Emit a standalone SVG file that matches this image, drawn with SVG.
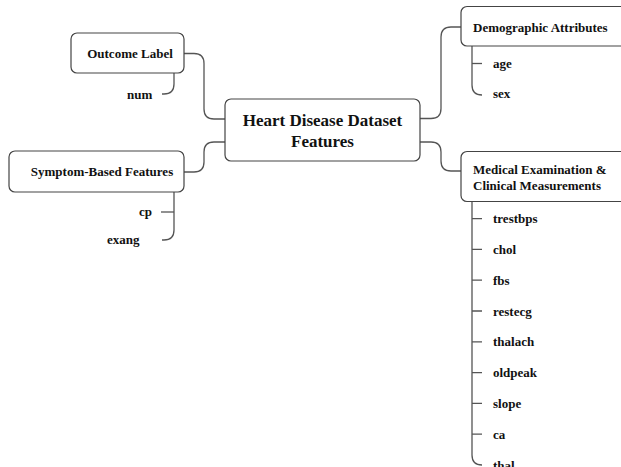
<svg xmlns="http://www.w3.org/2000/svg" width="621" height="467" viewBox="0 0 621 467">
<style>
.box{fill:#fff;stroke:#444;stroke-width:1.2}
.con{fill:none;stroke:#555;stroke-width:1.3}
text{font-family:"Liberation Serif","Times New Roman",serif;font-weight:bold;fill:#111;font-size:13px}
.title{font-size:17px}
.mid{text-anchor:middle}
</style>
<rect width="621" height="467" fill="#fff"/>
<g id="connectors">
<path class="con" d="M184 53.5 H194 Q204 53.5 204 63.5 V109 Q204 119 214 119 H225"/>
<path class="con" d="M184 172 H194 Q204 172 204 162 V152 Q204 142 214 142 H225"/>
<path class="con" d="M420 118.5 H431 Q441 118.5 441 108.5 V37 Q441 27 451 27 H461"/>
<path class="con" d="M420 142 H431 Q441 142 441 152 V161 Q441 171 451 171 H461"/>
<path class="con" d="M174 73 V84 Q174 94 164 94 H162"/>
<path class="con" d="M174 192 V230 Q174 240 164 240 H162"/>
<path class="con" d="M161 212 H174"/>
<path class="con" d="M472 46 V85 Q472 95 482 95"/>
<path class="con" d="M472 63.5 H482"/>
<path class="con" d="M472 202 V455 Q472 465 482 465"/>
<path class="con" d="M472 218.6 H482 M472 249.4 H482 M472 280.2 H482 M472 311 H482 M472 341.8 H482 M472 372.6 H482 M472 403.4 H482 M472 434.2 H482"/>
</g>
<g id="root">
<rect class="box" x="225" y="99" width="195" height="62" rx="6"/>
<text class="title mid" x="322.5" y="126">Heart Disease Dataset</text>
<text class="title mid" x="322.5" y="147">Features</text>
</g>
<g id="outcome">
<rect class="box" x="71" y="33" width="113" height="40" rx="6"/>
<text class="mid" x="130" y="58">Outcome Label</text>
</g>
<g id="num"><text x="127" y="99">num</text></g>
<g id="symptom">
<rect class="box" x="9" y="151" width="175" height="41" rx="6"/>
<text class="mid" x="102" y="176">Symptom-Based Features</text>
</g>
<g id="cp"><text x="139" y="216">cp</text></g>
<g id="exang"><text x="107" y="244">exang</text></g>
<g id="demographic">
<rect class="box" x="461" y="6.5" width="170" height="39.5" rx="6"/>
<text x="473" y="32">Demographic Attributes</text>
</g>
<g id="age"><text x="493" y="68">age</text></g>
<g id="sex"><text x="493" y="98">sex</text></g>
<g id="medical">
<rect class="box" x="461" y="151.5" width="170" height="50" rx="6"/>
<text x="473" y="174">Medical Examination &amp;</text>
<text x="473" y="190">Clinical Measurements</text>
</g>
<g id="trestbps"><text x="493" y="223">trestbps</text></g>
<g id="chol"><text x="493" y="254">chol</text></g>
<g id="fbs"><text x="493" y="284.7">fbs</text></g>
<g id="restecg"><text x="493" y="315.5">restecg</text></g>
<g id="thalach"><text x="493" y="346.3">thalach</text></g>
<g id="oldpeak"><text x="493" y="377.1">oldpeak</text></g>
<g id="slope"><text x="493" y="407.9">slope</text></g>
<g id="ca"><text x="493" y="438.7">ca</text></g>
<g id="thal"><text x="493" y="469.5">thal</text></g>
</svg>
